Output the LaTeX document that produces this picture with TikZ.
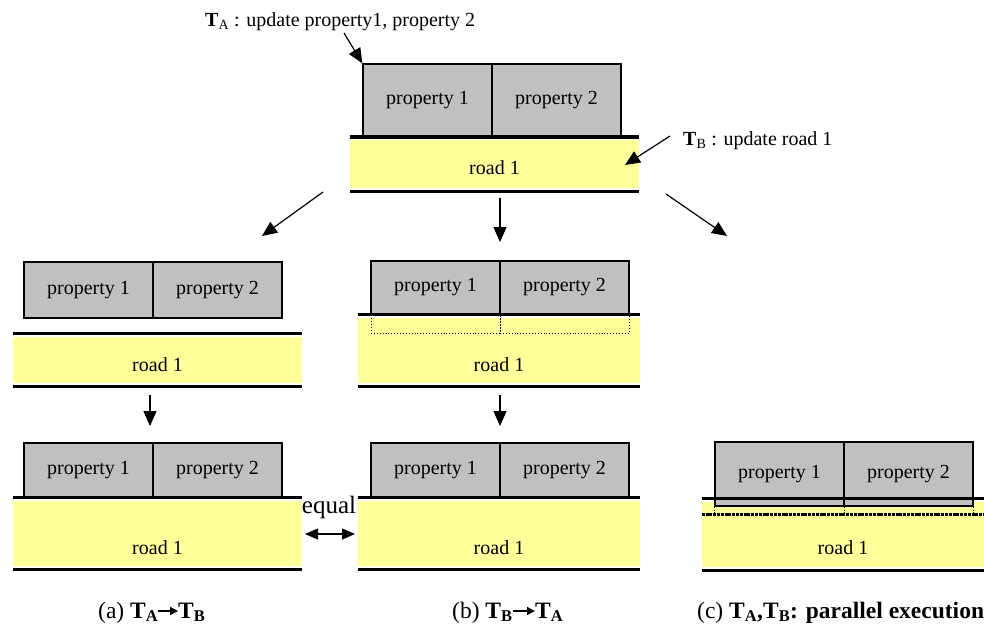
\documentclass[tikz,border=0pt]{standalone}
\usepackage{fontspec}
\setmainfont{Liberation Serif}
\usetikzlibrary{arrows.meta}
\definecolor{propgray}{RGB}{192,192,192}
\definecolor{roadyellow}{RGB}{255,255,153}
\begin{document}
\begin{tikzpicture}[x=1pt,y=-1pt,
  every node/.style={font=\fontsize{20}{24}\selectfont, text=black},
  propbox/.style={draw=black, fill=propgray, line width=1.3pt, inner sep=0pt, minimum width=129pt},
  roadfill/.style={fill=roadyellow, draw=none, inner sep=0pt},
  roadline/.style={line width=3.5pt},
  dotbox/.style={draw=black, dotted, line width=0.9pt, inner sep=0pt, minimum width=129pt, minimum height=19pt},
  arr/.style={line width=1.2pt, -{Triangle[length=15pt,width=13pt]}},
  dblarr/.style={line width=1.2pt, {Triangle[length=13pt,width=11pt]}-{Triangle[length=13pt,width=11pt]}},
  caparr/.style={line width=1.4pt, -{Triangle[length=8pt,width=8pt]}},
  lbl/.style={anchor=base west, inner sep=0pt},
  captxt/.style={anchor=base west, inner sep=0pt, font=\fontsize{23.5}{28}\selectfont}
]
\useasboundingbox (0,0) rectangle (984,630);

% ---------- top block ----------
\node[roadfill, minimum width=289pt, minimum height=48pt] (tr) at (494.5,164) {};
\node[propbox, minimum height=72pt] (t1) at (427.5,100) {property 1};
\node[propbox, minimum height=72pt] (t2) at (556.5,100) {property 2};
\draw[roadline] ([yshift=3pt]tr.north west) -- ([yshift=3pt]tr.north east);
\draw[roadline] ([yshift=-3.5pt]tr.south west) -- ([yshift=-3.5pt]tr.south east);
\node (trt) at (494.5,168) {road 1};

\node[lbl] (labA) at (205,26) {\textbf{T}\textsubscript{A} : update property1, property 2};
\node[lbl] (labB) at (683,145) {\textbf{T}\textsubscript{B} : update road 1};
\coordinate (taS) at (344,33);
\draw[arr] (taS) -- (t1.north west);
\coordinate (tbS) at (670,136);
\coordinate (tbE) at (625,165);
\draw[arr] (tbS) -- (tbE);

% diverging arrows
\coordinate (dL1) at (323,192); \coordinate (dL2) at (262,236);
\coordinate (dC1) at (500,198); \coordinate (dC2) at (500,242);
\coordinate (dR1) at (666,194); \coordinate (dR2) at (727,236);
\draw[arr] (dL1) -- (dL2);
\draw[arr] (dC1) -- (dC2);
\draw[arr] (dR1) -- (dR2);

% ---------- row 2 (a) ----------
\node[roadfill, minimum width=289pt, minimum height=46pt] (ar) at (157.5,360) {};
\node[propbox, minimum height=56pt] (a1) at (88.5,290) {property 1};
\node[propbox, minimum height=56pt] (a2) at (217.5,290) {property 2};
\draw[roadline] ([yshift=3.5pt]ar.north west) -- ([yshift=3.5pt]ar.north east);
\draw[roadline] ([yshift=-3.5pt]ar.south west) -- ([yshift=-3.5pt]ar.south east);
\node (art) at (157.5,365) {road 1};

% ---------- row 2 (b) ----------
\node[roadfill, minimum width=282pt, minimum height=65pt] (br) at (499,350.5) {};
\node[propbox, minimum height=53pt] (b1) at (435.5,287.5) {property 1};
\node[propbox, minimum height=53pt] (b2) at (564.5,287.5) {property 2};
\node[dotbox] (bd1) at (435.5,323.5) {};
\node[dotbox] (bd2) at (564.5,323.5) {};
\draw[roadline] ([yshift=3.5pt]br.north west) -- ([yshift=3.5pt]br.north east);
\draw[roadline] ([yshift=-3.5pt]br.south west) -- ([yshift=-3.5pt]br.south east);
\node (brt) at (499,365) {road 1};

% down arrows
\coordinate (dA1) at (150,395); \coordinate (dA2) at (150,426);
\coordinate (dB1) at (500,395); \coordinate (dB2) at (500,426);
\draw[arr] (dA1) -- (dA2);
\draw[arr] (dB1) -- (dB2);

% ---------- row 3 (a) ----------
\node[roadfill, minimum width=289pt, minimum height=65pt] (ar3) at (157.5,533.5) {};
\node[propbox, minimum height=54pt] (a31) at (88.5,470) {property 1};
\node[propbox, minimum height=54pt] (a32) at (217.5,470) {property 2};
\draw[roadline] ([yshift=3.5pt]ar3.north west) -- ([yshift=3.5pt]ar3.north east);
\draw[roadline] ([yshift=-3.5pt]ar3.south west) -- ([yshift=-3.5pt]ar3.south east);
\node (ar3t) at (157.5,548) {road 1};

% ---------- row 3 (b) ----------
\node[roadfill, minimum width=282pt, minimum height=65pt] (br3) at (499,533.5) {};
\node[propbox, minimum height=54pt] (b31) at (435.5,470) {property 1};
\node[propbox, minimum height=54pt] (b32) at (564.5,470) {property 2};
\draw[roadline] ([yshift=3.5pt]br3.north west) -- ([yshift=3.5pt]br3.north east);
\draw[roadline] ([yshift=-3.5pt]br3.south west) -- ([yshift=-3.5pt]br3.south east);
\node (br3t) at (499,548) {road 1};

% equal
\node[font=\fontsize{25}{30}\selectfont, inner sep=0pt] (eq) at (329,507) {equal};
\coordinate (eqL) at (305,534); \coordinate (eqR) at (355,534);
\draw[dblarr] (eqL) -- (eqR);

% ---------- row 3 (c) ----------
\node[roadfill, minimum width=282pt, minimum height=65pt] (cr3) at (843,534.5) {};
\node[propbox, minimum height=64pt] (c31) at (779.5,474) {property 1};
\node[propbox, minimum height=64pt] (c32) at (908.5,474) {property 2};
\draw[roadline] ([yshift=3.5pt]cr3.north west) -- ([yshift=3.5pt]cr3.north east);
\draw[roadline] ([yshift=-3.5pt]cr3.south west) -- ([yshift=-3.5pt]cr3.south east);
\draw[line width=2.8pt, dash pattern=on 3pt off 0.8pt] ([yshift=-13pt]cr3.north west) -- ([yshift=-13pt]cr3.north east);
\draw[dotted, line width=0.9pt] (c31.south west) -- ++(0,9);
\draw[dotted, line width=0.9pt] (c31.south east) -- ++(0,9);
\draw[dotted, line width=0.9pt] (c32.south east) -- ++(0,9);
\node (cr3t) at (843,548) {road 1};

% ---------- captions ----------
\node[captxt] (capa1) at (98,618) {(a) \textbf{T\textsubscript{A}}};
\node[captxt] (capa2) at (178,618) {\textbf{T\textsubscript{B}}};
\draw[caparr] ([yshift=7pt]capa1.base east) -- ([yshift=7pt]capa2.base west);

\node[captxt] (capb1) at (452,618) {(b) \textbf{T\textsubscript{B}}};
\node[captxt] (capb2) at (535,618) {\textbf{T\textsubscript{A}}};
\draw[caparr] ([yshift=7pt]capb1.base east) -- ([yshift=7pt]capb2.base west);

\node[captxt] (capc) at (697,618) {(c) \textbf{T\textsubscript{A},T\textsubscript{B}: parallel execution}};
\end{tikzpicture}
\end{document}
